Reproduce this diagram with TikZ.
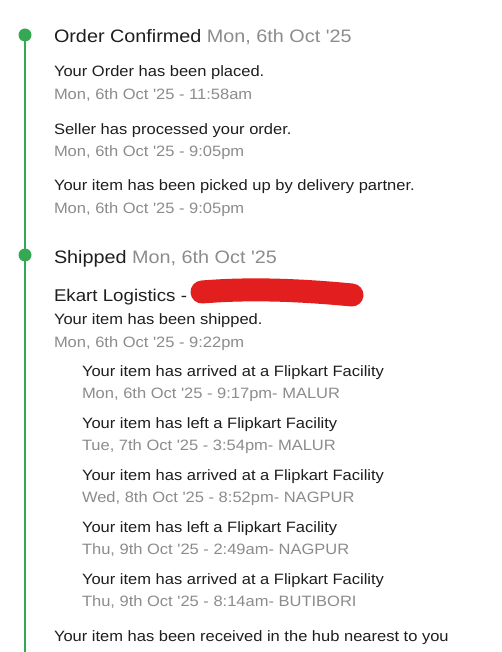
\documentclass[tikz,border=0pt]{standalone}
\usepackage{fontspec}
\setmainfont[Ligatures=TeXOff,FakeStretch=1.10]{Liberation Sans}
\definecolor{tlgreen}{HTML}{34A853}
\definecolor{txtgray}{HTML}{8C8C8C}
\definecolor{txtblack}{HTML}{1E1E1E}
\definecolor{redact}{HTML}{E21E1E}
\begin{document}
\begin{tikzpicture}[x=1pt,y=-1pt,
  every node/.style={inner sep=0pt,outer sep=0pt,anchor=base west},
  head/.style={font=\fontsize{18}{20}\selectfont,text=txtblack},
  msg/.style={font=\fontsize{15}{17}\selectfont,text=txtblack},
  stamp/.style={font=\fontsize{15}{17}\selectfont,text=txtgray},
  dotmark/.style={circle,fill=tlgreen,minimum size=13pt,inner sep=0pt,anchor=center},
  rail/.style={draw=tlgreen,line width=2pt}]
\useasboundingbox (0,0) rectangle (502,652);
\fill[white] (0,0) rectangle (502,652);
% timeline
\node[dotmark] (d1) at (25,35) {};
\node[dotmark] (d2) at (25,255) {};
\coordinate (railend) at (25,652);
\draw[rail] (d1.center) -- (d2.center);
\draw[rail] (d2.center) -- (railend);
% section 1
\node[head] (h1) at (54,43) {Order Confirmed \textcolor{txtgray}{Mon, 6th Oct '25}};
\node[msg] (m1) at (54,77) {Your Order has been placed.};
\node[stamp] (s1) at (54,100) {Mon, 6th Oct '25 - 11:58am};
\node[msg] (m2) at (54,135) {Seller has processed your order.};
\node[stamp] (s2) at (54,157) {Mon, 6th Oct '25 - 9:05pm};
\node[msg] (m3) at (54,191) {Your item has been picked up by delivery partner.};
\node[stamp] (s3) at (54,213) {Mon, 6th Oct '25 - 9:05pm};
% section 2
\node[head] (h2) at (54,263) {Shipped \textcolor{txtgray}{Mon, 6th Oct '25}};
\node[head,font=\fontsize{17}{19}\selectfont] (ek) at (54,301) {Ekart Logistics -};
\draw[redact,line width=23pt,line cap=round] (202,292) .. controls (250,288) and (300,290) .. (352,295);
\node[msg] (m4) at (54,324) {Your item has been shipped.};
\node[stamp] (s4) at (54,347) {Mon, 6th Oct '25 - 9:22pm};
\node[msg] (m5) at (82,376) {Your item has arrived at a Flipkart Facility};
\node[stamp] (s5) at (82,398) {Mon, 6th Oct '25 - 9:17pm- MALUR};
\node[msg] (m6) at (82,428) {Your item has left a Flipkart Facility};
\node[stamp] (s6) at (82,450) {Tue, 7th Oct '25 - 3:54pm- MALUR};
\node[msg] (m7) at (82,480) {Your item has arrived at a Flipkart Facility};
\node[stamp] (s7) at (82,502) {Wed, 8th Oct '25 - 8:52pm- NAGPUR};
\node[msg] (m8) at (82,532) {Your item has left a Flipkart Facility};
\node[stamp] (s8) at (82,554) {Thu, 9th Oct '25 - 2:49am- NAGPUR};
\node[msg] (m9) at (82,584) {Your item has arrived at a Flipkart Facility};
\node[stamp] (s9) at (82,606) {Thu, 9th Oct '25 - 8:14am- BUTIBORI};
\node[msg] (m10) at (54,641) {Your item has been received in the hub nearest to you};
\end{tikzpicture}
\end{document}
